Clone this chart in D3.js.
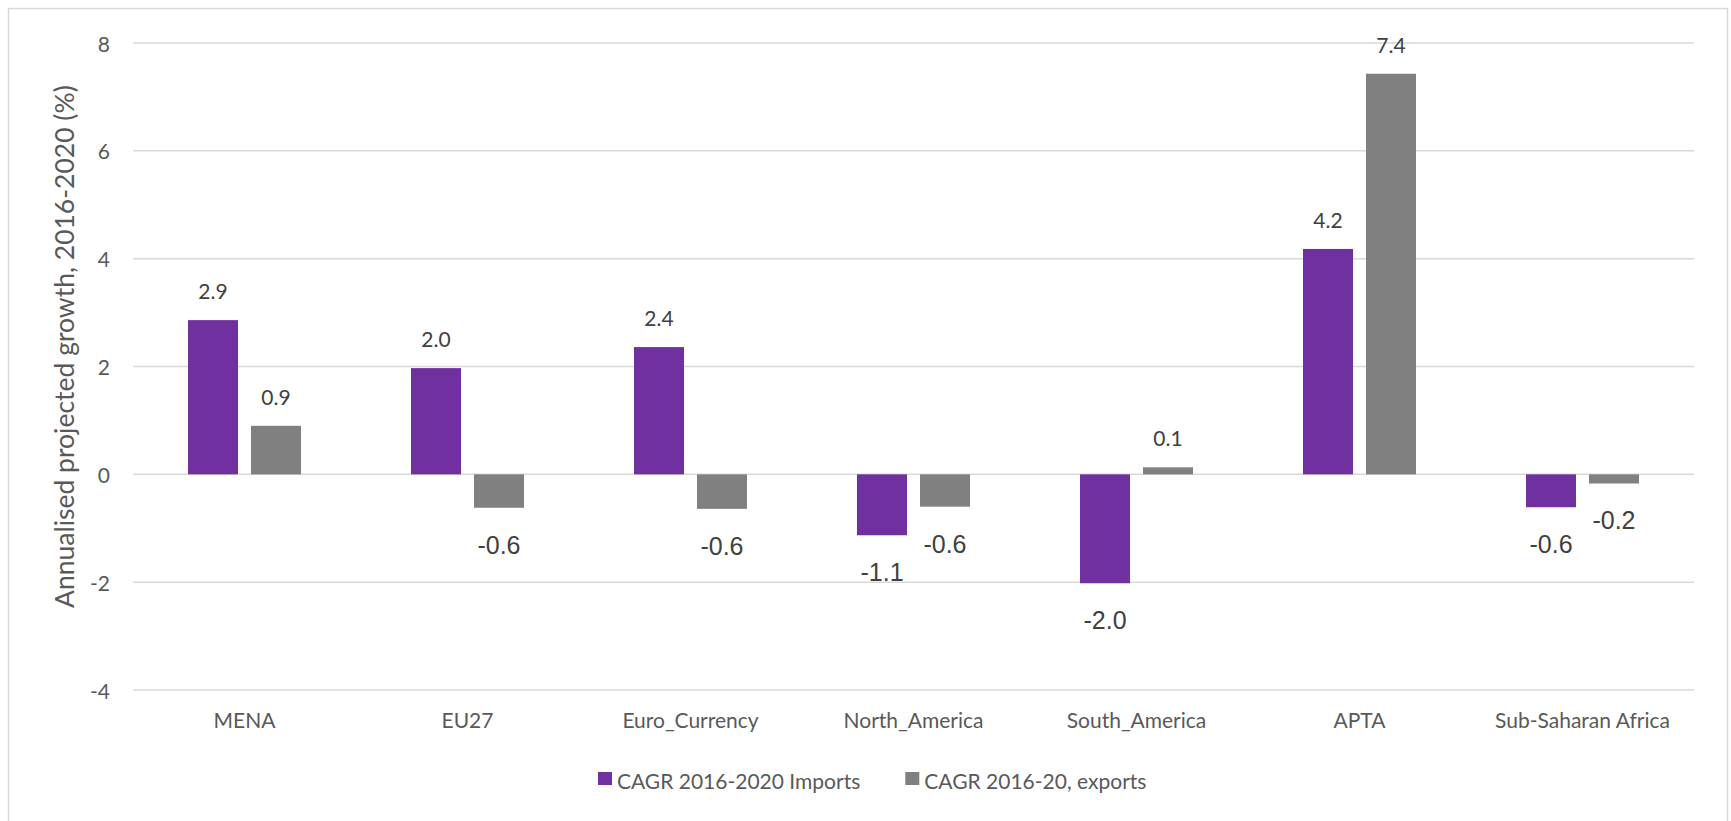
<!DOCTYPE html>
<html>
<head>
<meta charset="utf-8">
<script src="https://cdn.jsdelivr.net/npm/d3@7"></script>
<style>
  body { margin: 0; background: #fff; }
  svg { display: block; }
</style>
</head>
<body>
<svg id="chart" width="1731" height="821"></svg>
<script>
// Regions and projected compound annual growth (%)
const categories = ["MENA", "EU27", "Euro_Currency", "North_America", "South_America", "APTA", "Sub-Saharan Africa"];
const importsGrowth = [2.86, 1.97, 2.36, -1.13, -2.02, 4.18, -0.61];
const exportsGrowth = [0.90, -0.62, -0.64, -0.60, 0.13, 7.43, -0.17];
const seriesNames = ["CAGR 2016-2020 Imports", "CAGR 2016-20, exports"];
const seriesColors = ["#7030A0", "#808080"];
const yTicks = [-4, -2, 0, 2, 4, 6, 8];
const yTitle = "Annualised projected growth, 2016-2020 (%)";

const plot = { left: 133, right: 1694, top: 43, bottom: 690 };
const sansFont = "Lato, 'Open Sans', sans-serif";
const labelFontNeg = "'Liberation Sans', Arial, sans-serif";
const textGrey = "#595959";

const svg = d3.select("#chart");

// outer frame
svg.append("rect")
  .attr("x", 8.5).attr("y", 8.5)
  .attr("width", 1719).attr("height", 830)
  .attr("fill", "#fff").attr("stroke", "#d9d9d9").attr("stroke-width", 1.5);

const y = d3.scaleLinear().domain([-4, 8]).range([plot.bottom, plot.top]);
const x = d3.scaleBand().domain(categories).range([plot.left, plot.right]).paddingInner(0).paddingOuter(0);
const xInner = d3.scaleBand().domain(seriesNames)
  .range([x.bandwidth() / 2 - 56.5, x.bandwidth() / 2 + 56.5])
  .paddingInner(0.206).paddingOuter(0);

// plain hyphen for negatives
const hyphen = s => s.replace("\u2212", "-");
const fmt1 = v => hyphen(d3.format(".1f")(v));

// gridlines
svg.append("g").selectAll("line").data(yTicks).join("line")
  .attr("x1", plot.left).attr("x2", plot.right)
  .attr("y1", d => y(d)).attr("y2", d => y(d))
  .attr("stroke", "#d9d9d9").attr("stroke-width", 1.5);

// y-axis tick labels
const yAxis = svg.append("g")
  .attr("transform", `translate(${plot.left},0)`)
  .call(d3.axisLeft(y).tickValues(yTicks).tickSize(0).tickPadding(23)
    .tickFormat(d => hyphen(d3.format("d")(d))));
yAxis.select(".domain").remove();
yAxis.selectAll(".tick text")
  .attr("font-family", sansFont).attr("font-size", 21).attr("fill", textGrey)
  .attr("dy", null).attr("y", 8);

// y-axis title
svg.append("text")
  .attr("transform", "translate(74,608) rotate(-90)")
  .attr("text-anchor", "start")
  .attr("font-family", sansFont).attr("font-size", 26.5).attr("fill", textGrey)
  .text(yTitle);

// bars
const barData = categories.flatMap((c, i) =>
  [importsGrowth[i], exportsGrowth[i]].map((v, j) => ({ cat: c, series: seriesNames[j], idx: j, value: v })));

svg.append("g").selectAll("rect").data(barData).join("rect")
  .attr("x", d => x(d.cat) + xInner(d.series))
  .attr("width", xInner.bandwidth())
  .attr("y", d => Math.min(y(d.value), y(0)))
  .attr("height", d => Math.abs(y(d.value) - y(0)))
  .attr("fill", d => seriesColors[d.idx]);

// value labels
svg.append("g").selectAll("text").data(barData).join("text")
  .attr("text-anchor", "middle")
  .attr("fill", "#404040")
  .attr("font-family", d => d.value >= 0 ? sansFont : labelFontNeg)
  .attr("font-size", d => d.value >= 0 ? 21 : 25)
  .attr("x", d => x(d.cat) + xInner(d.series) + xInner.bandwidth() / 2)
  .attr("y", d => d.value >= 0 ? y(d.value) - 21 : y(d.value) + 46)
  .text(d => fmt1(d.value));

// category labels
svg.append("g").selectAll("text").data(categories).join("text")
  .attr("text-anchor", "middle")
  .attr("font-family", sansFont).attr("font-size", 21).attr("fill", textGrey)
  .attr("x", d => x(d) + x.bandwidth() / 2)
  .attr("y", 728)
  .text(d => d);

// legend
const legend = svg.append("g");
let lx = 598;
seriesNames.forEach((name, i) => {
  legend.append("rect")
    .attr("x", lx).attr("y", 772).attr("width", 14).attr("height", 13)
    .attr("fill", seriesColors[i]);
  const t = legend.append("text")
    .attr("x", lx + 19).attr("y", 789)
    .attr("font-family", sansFont).attr("font-size", 21).attr("fill", textGrey)
    .text(name);
  lx += 19 + t.node().getComputedTextLength() + 45;
});
</script>
</body>
</html>
